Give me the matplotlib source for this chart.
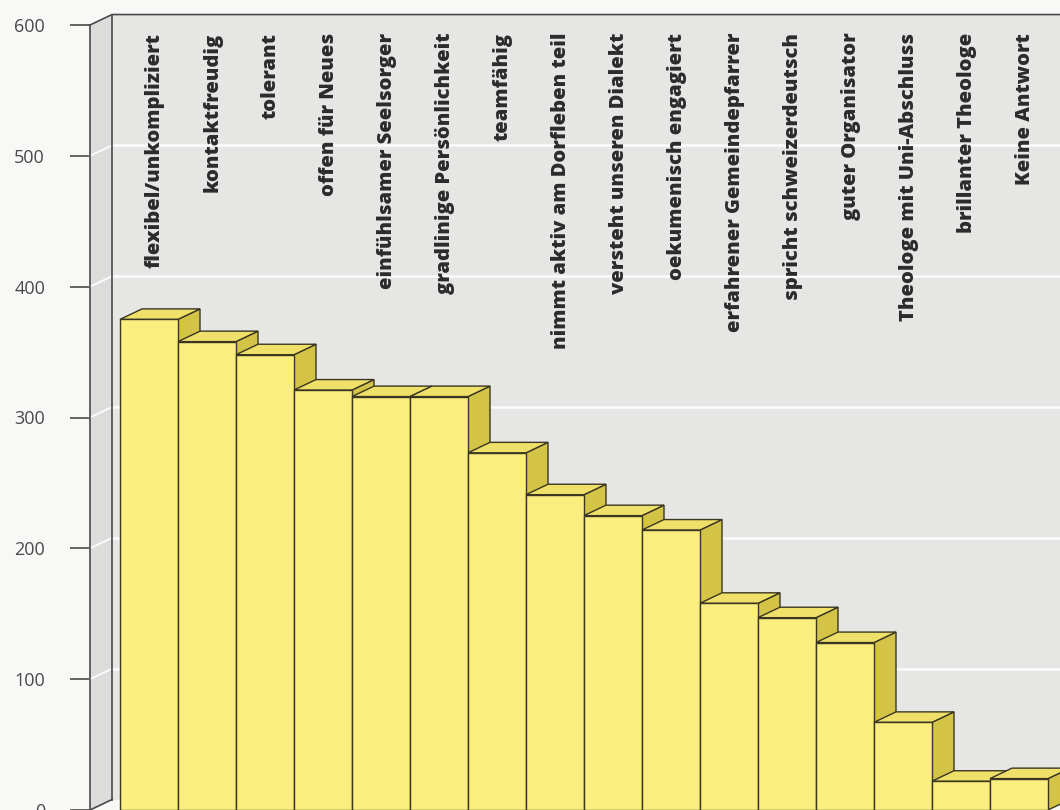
import matplotlib
matplotlib.use('Agg')
import matplotlib.pyplot as plt
from matplotlib.patches import Polygon, Rectangle

plt.rcParams['font.family'] = ['Open Sans', 'DejaVu Sans']

# Daten
eigenschaften = ['flexibel/unkompliziert', 'kontaktfreudig', 'tolerant', 'offen für Neues',
                 'einfühlsamer Seelsorger', 'gradlinige Persönlichkeit', 'teamfähig',
                 'nimmt aktiv am Dorfleben teil', 'versteht unseren Dialekt',
                 'oekumenisch engagiert', 'erfahrener Gemeindepfarrer',
                 'spricht schweizerdeutsch', 'guter Organisator',
                 'Theologe mit Uni-Abschluss', 'brillanter Theologe', 'Keine Antwort']
nennungen = [375, 358, 348, 321, 316, 316, 273, 241, 225, 214, 158, 147, 128, 67, 22, 24]
y_ticks = [0, 100, 200, 300, 400, 500, 600]

# Farben
front = '#faef7e'
oben = '#eee068'
seite = '#d3c448'
kante = '#3b3622'
wand_hinten = '#e6e6e4'
wand_links = '#dcdcda'

fig = plt.figure(figsize=(10.6, 8.1), dpi=100, facecolor='#f8f8f6')
ax = fig.add_axes([90 / 1060, 0, 970 / 1060, 785 / 810])
ax.set_facecolor('none')

x0 = -30 / 58
x1 = 940 / 58
ax.set_xlim(x0, x1)
ax.set_ylim(0, 600)

# 3D-Versatz (Tiefe)
dx = 22 / 58
dy = 8.0
ymax = y_ticks[-1]

# Waende
ax.add_patch(Polygon([(x0 + dx, dy), (x0 + dx, ymax + dy), (x1 + 1, ymax + dy), (x1 + 1, dy)],
                     closed=True, facecolor=wand_hinten, edgecolor='none', clip_on=False, zorder=1))
ax.add_patch(Polygon([(x0, 0), (x0, ymax), (x0 + dx, ymax + dy), (x0 + dx, dy)],
                     closed=True, facecolor=wand_links, edgecolor='none', clip_on=False, zorder=1))

# Gitterlinien auf den Waenden
for v in y_ticks[1:-1]:
    ax.plot([x0, x0 + dx], [v, v + dy], color='white', lw=1.4, alpha=0.9, clip_on=False, zorder=2)
    ax.plot([x0 + dx, x1 + 1], [v + dy, v + dy], color='white', lw=1.8, alpha=0.9,
            clip_on=False, zorder=2)

# Wandkanten
ax.plot([x0, x0 + dx, x1 + 1], [ymax, ymax + dy, ymax + dy], color='#4a4a4a', lw=1.2,
        clip_on=False, zorder=3)
ax.plot([x0 + dx, x0 + dx], [dy, ymax + dy], color='#4a4a4a', lw=1.2, clip_on=False, zorder=3)
ax.plot([x0, x0 + dx], [0, dy], color='#4a4a4a', lw=1.2, clip_on=False, zorder=3)

# Balken (von links nach rechts zeichnen, damit die Ueberdeckung stimmt)
for i, v in enumerate(nennungen):
    z = 4 + i * 0.01
    ax.add_patch(Polygon([(i + 1, 0), (i + 1, v), (i + 1 + dx, v + dy), (i + 1 + dx, dy)],
                         closed=True, facecolor=seite, edgecolor=kante, lw=1.0, zorder=z))
    ax.add_patch(Polygon([(i, v), (i + 1, v), (i + 1 + dx, v + dy), (i + dx, v + dy)],
                         closed=True, facecolor=oben, edgecolor=kante, lw=1.0, zorder=z))
    ax.add_patch(Rectangle((i, 0), 1, v, facecolor=front, edgecolor=kante, lw=1.0, zorder=z))

# Beschriftungen oben
for i, name in enumerate(eigenschaften):
    ax.text(i + 0.6, 594, name, rotation=90, ha='center', va='top', fontsize=14.5,
            fontweight=800, color='#2b2b2b', zorder=10)

# Achse
for s in ['top', 'right', 'bottom']:
    ax.spines[s].set_visible(False)
ax.spines['left'].set_color('#4a4a4a')
ax.spines['left'].set_linewidth(1.2)
ax.spines['left'].set_zorder(3)
ax.set_xticks([])
ax.set_yticks(y_ticks)
ax.set_yticklabels([str(t) for t in y_ticks])
ax.tick_params(axis='y', length=14.4, width=1.2, color='#4a4a4a', pad=18,
               labelsize=13, labelcolor='#4a4a4a')

fig.savefig('out.png', dpi=100, facecolor=fig.get_facecolor())
